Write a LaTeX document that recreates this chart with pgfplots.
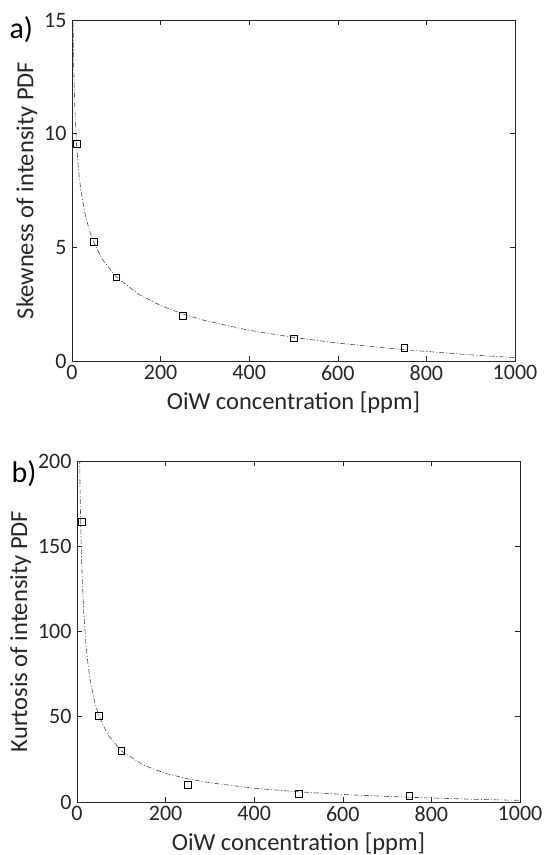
\documentclass[border=0pt]{standalone}
\usepackage{fontspec}
\setmainfont{Carlito}
\usepackage{pgfplots}
\usepackage{pgfplotstable}
\pgfplotsset{compat=1.18}
\definecolor{axc}{gray}{0.15}
\definecolor{fitc}{gray}{0.3}
\pgfplotstableread{
x y
10 9.55
50 5.25
100 3.68
250 1.98
500 1.00
750 0.59
}\skewdata
\pgfplotstableread{
x y
2.5 14.89
3 14.10
4 12.92
5 12.05
7 10.81
10 9.60
15 8.33
20 7.50
30 6.42
40 5.70
50 5.18
70 4.43
100 3.70
150 2.94
200 2.44
250 2.07
300 1.78
400 1.35
500 1.04
600 0.79
700 0.59
750 0.50
800 0.42
900 0.27
1000 0.15
}\skewfit
\pgfplotstableread{
x y
10 164.4
50 50.4
100 30.1
250 10.0
500 4.9
750 3.7
}\kurtdata
\pgfplotstableread{
x y
6 201.1
7 182.5
8 167.8
10 145.7
12 129.7
15 112.3
20 93.1
25 80.4
30 71.1
40 58.4
50 50.0
70 39.3
100 30.0
150 21.6
200 16.8
250 13.6
300 11.3
400 8.1
500 5.97
600 4.44
700 3.27
800 2.34
900 1.58
1000 0.95
}\kurtfit
\pgfplotsset{
  myax/.style={
    scale only axis, width=443pt, height=341pt,
    xmin=0, xmax=1000, xtick={0,200,...,1000},
    axis line style={axc, line width=0.6pt},
    tick style={axc, line width=0.6pt},
    major tick length=5pt,
    tick align=inside,
    xtick pos=both, ytick pos=both,
    /pgf/number format/assume math mode=true,
    /pgf/number format/set thousands separator={},
    tick label style={font=\fontsize{22}{26}\selectfont, text=axc},
    label style={font=\fontsize{24.5}{28}\selectfont, text=axc},
    xticklabel style={yshift=-1pt},
    yticklabel style={xshift=-2pt},
    clip=true,
  },
  markst/.style={only marks, mark=square, mark size=3.4pt, mark options={black, line width=0.6pt}},
  fitst/.style={no markers, fitc, line width=0.6pt, dash pattern=on 5pt off 2pt on 1pt off 2pt},
}
\begin{document}
\begin{tikzpicture}
\path[use as bounding box] (0pt,0pt) rectangle (544pt,-855pt);
\begin{axis}[myax, at={(72pt,-361pt)}, anchor=south west,
  ymin=0, ymax=15, ytick={0,5,10,15},
  xlabel={OiW concentration [ppm]},
  ylabel={Skewness of intensity PDF},
  xlabel style={yshift=-4pt},
  ylabel style={yshift=0pt}]
\addplot[fitst] table[x=x,y=y] {\skewfit};
\addplot[markst] table[x=x,y=y] {\skewdata};
\end{axis}
\node[anchor=west, text=black, font=\fontsize{30}{34}\selectfont] at (6pt,-30pt) {a)};
\begin{axis}[myax, at={(77pt,-802pt)}, anchor=south west,
  ymin=0, ymax=200, ytick={0,50,100,150,200},
  xlabel={OiW concentration [ppm]},
  ylabel={Kurtosis of intensity PDF},
  xlabel style={yshift=-4pt},
  ylabel style={yshift=0pt}]
\addplot[fitst] table[x=x,y=y] {\kurtfit};
\addplot[markst] table[x=x,y=y] {\kurtdata};
\end{axis}
\node[anchor=west, text=black, font=\fontsize{30}{34}\selectfont] at (8pt,-474pt) {b)};
\end{tikzpicture}
\end{document}
